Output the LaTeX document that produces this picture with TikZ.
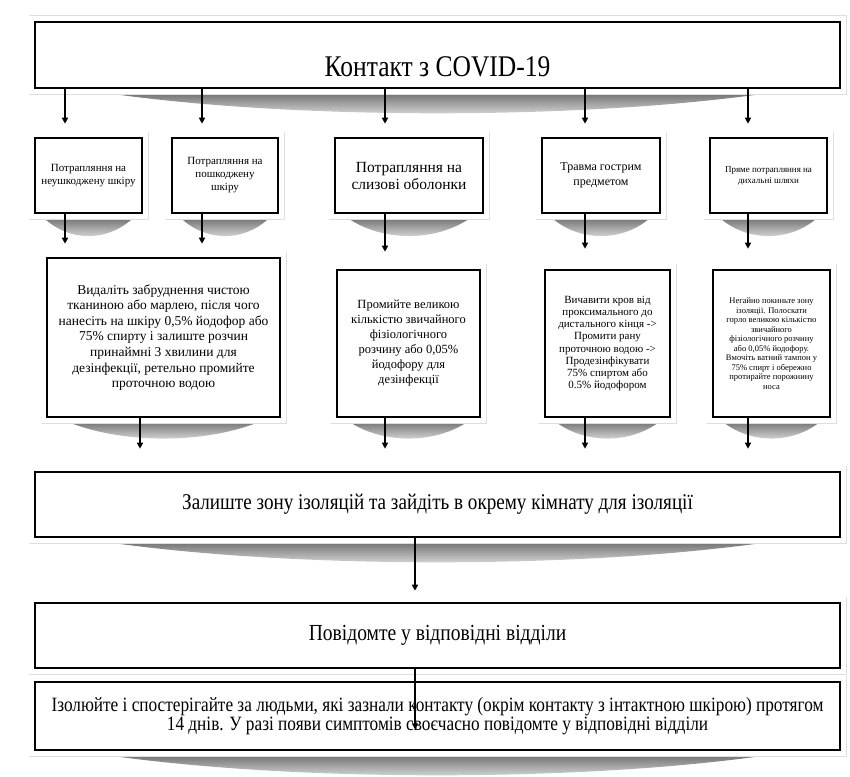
\documentclass[tikz,border=0pt]{standalone}
\usepackage{fontspec}
\setmainfont{Liberation Serif}
\newfontfamily\narrowserif{Liberation Serif}[FakeStretch=0.85]
\usetikzlibrary{arrows.meta,calc,backgrounds}

\newcommand{\cardfont}[2]{\fontsize{#1}{#2}\selectfont}
% curled shadow under a card
\newcommand{\cardshadow}[2]{%
  \shade[top color=black!62, bottom color=black!4]
    ($(#1.south west)!0.06!(#1.south east)$)
    .. controls ($(#1.south west)!0.3!(#1.south east)+(0,#2)$)
           and ($(#1.south west)!0.7!(#1.south east)+(0,#2)$)
    .. ($(#1.south west)!0.94!(#1.south east)$) -- cycle;}

\begin{document}
\begin{tikzpicture}[x=1pt,y=-1pt,
  card/.style={draw=black, line width=2.6pt, fill=white, inner sep=0pt, align=center,
    preaction={draw=black!13, line width=13pt},
    preaction={draw=white, line width=11.5pt}},
  wide/.style={card, minimum width=805pt, minimum height=65pt, font=\narrowserif\cardfont{22.5}{19}},
  arr/.style={line width=1.4pt, shorten >=13pt, -{Triangle[length=6pt,width=6pt]}}]
\useasboundingbox (0,0) rectangle (850,776);

% columns of the arrows
\coordinate (c1) at (65,0);
\coordinate (c2) at (202,0);
\coordinate (c3) at (385,0);
\coordinate (c4) at (585,0);
\coordinate (c5) at (748,0);
\coordinate (c6) at (140,0);
\coordinate (c7) at (415,0);

\node[card, minimum width=805pt, text height=54pt, text depth=12pt,
  font=\narrowserif\cardfont{30}{32}] (contact) at (437.5,55) {Контакт з COVID-19};

\node[card, minimum width=107pt, minimum height=75pt, font=\cardfont{11}{12.5}] (intact) at (88.5,175.5) {Потрапляння на\\неушкоджену шкіру};
\node[card, minimum width=106pt, minimum height=75pt, font=\cardfont{11}{13}] (damaged) at (225,175.5) {Потрапляння на\\пошкоджену\\шкіру};
\node[card, minimum width=148pt, minimum height=75pt, font=\cardfont{15.5}{17}] (mucosa) at (409,175.5) {Потрапляння на\\слизові оболонки};
\node[card, minimum width=118pt, minimum height=75pt, font=\cardfont{12}{15}] (sharp) at (601,175.5) {Травма гострим\\предметом};
\node[card, minimum width=117pt, minimum height=75pt, font=\cardfont{9}{11}] (airway) at (768.5,175.5) {Пряме потрапляння на\\дихальні шляхи};

\node[card, minimum width=233pt, minimum height=159pt, font=\cardfont{13.5}{15.6}] (skinwash) at (163.5,337.5)
  {Видаліть забруднення чистою\\тканиною або марлею, після чого\\нанесіть на шкіру 0,5\% йодофор або\\75\% спирту і залиште розчин\\принаймні 3 хвилини для\\дезінфекції, ретельно промийте\\проточною водою};
\node[card, minimum width=143pt, minimum height=147pt, font=\cardfont{12.5}{15}] (mucowash) at (408.5,343.5)
  {Промийте великою\\кількістю звичайного\\фізіологічного\\розчину або 0,05\%\\йодофору для\\дезінфекції};
\node[card, minimum width=125pt, minimum height=147pt, font=\cardfont{11}{12.2}] (woundcare) at (607.5,343.5)
  {Вичавити кров від\\проксимального до\\дистального кінця ->\\Промити рану\\проточною водою ->\\Продезінфікувати\\75\% спиртом або\\0.5\% йодофором};
\node[card, minimum width=117pt, minimum height=147pt, font=\cardfont{8.5}{9.5}] (airwaycare) at (771.5,343.5)
  {Негайно покиньте зону\\ізоляції. Полоскати\\горло великою кількістю\\звичайного\\фізіологічного розчину\\або 0,05\% йодофору.\\Вмочіть ватний тампон у\\75\% спирт і обережно\\протирайте порожнину\\носа};

\node[wide] (leave) at (437.5,504.5) {Залиште зону ізоляцій та зайдіть в окрему кімнату для ізоляції};
\node[wide, font=\narrowserif\cardfont{23}{19}] (notify) at (437.5,635.5) {Повідомте у відповідні відділи};
\node[wide, minimum height=68pt, font=\narrowserif\cardfont{20.3}{19}] (observe) at (437.5,716)
  {Ізолюйте і спостерігайте за людьми, які зазнали контакту (окрім контакту з інтактною шкірою) протягом\\14 днів. У разі появи симптомів своєчасно повідомте у відповідні відділи};

\begin{scope}[on background layer]
\foreach \n in {contact,leave,observe} {\cardshadow{\n}{32}}
\foreach \n in {intact,damaged,mucosa,sharp,airway} {\cardshadow{\n}{29}}
\foreach \n in {skinwash,mucowash,woundcare,airwaycare} {\cardshadow{\n}{27}}
\end{scope}

\draw[arr] (contact.south -| c1) -- (intact.north -| c1);
\draw[arr] (contact.south -| c2) -- (damaged.north -| c2);
\draw[arr] (contact.south -| c3) -- (mucosa.north -| c3);
\draw[arr] (contact.south -| c4) -- (sharp.north -| c4);
\draw[arr] (contact.south -| c5) -- (airway.north -| c5);

\draw[arr] (intact.south -| c1) -- (skinwash.north -| c1);
\draw[arr] (damaged.south -| c2) -- (skinwash.north -| c2);
\draw[arr, shorten >=17pt] (mucosa.south -| c3) -- (mucowash.north -| c3);
\draw[arr, shorten >=20pt] (sharp.south -| c4) -- (woundcare.north -| c4);
\draw[arr, shorten >=20pt] (airway.south -| c5) -- (airwaycare.north -| c5);

\draw[arr, shorten >=22pt] (skinwash.south -| c6) -- (leave.north -| c6);
\draw[arr, shorten >=22pt] (mucowash.south -| c3) -- (leave.north -| c3);
\draw[arr, shorten >=22pt] (woundcare.south -| c4) -- (leave.north -| c4);
\draw[arr, shorten >=22pt] (airwaycare.south -| c5) -- (leave.north -| c5);

\draw[arr, shorten >=11pt] (leave.south -| c7) -- (notify.north -| c7);
\draw[arr, shorten >=22pt] (notify.south -| c7) -- (observe.south -| c7);

\end{tikzpicture}
\end{document}
